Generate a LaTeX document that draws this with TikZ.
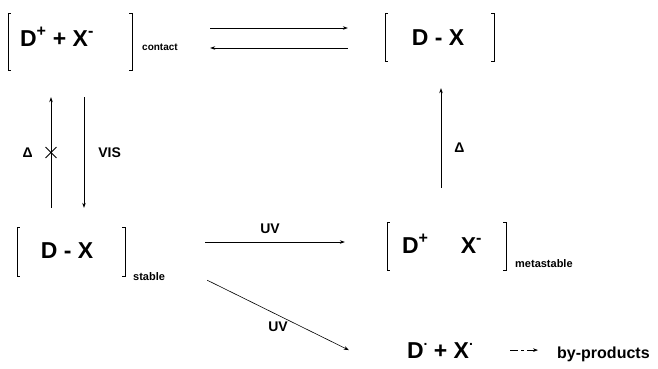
\documentclass[tikz,border=0pt]{standalone}
\usepackage{fontspec}
\setmainfont{Liberation Sans}
\usetikzlibrary{arrows.meta,positioning,calc,shapes.misc}

\newcommand{\rdot}{\raisebox{0.55em}{\fontsize{14}{14}\selectfont.}}

\tikzset{
  brbox/.style 2 args={inner sep=0pt, minimum width=#1, minimum height=#2},
  brk/.style={line width=0.6pt},
  species/.style={font=\fontsize{23}{26}\selectfont\bfseries, inner sep=0pt, anchor=base},
  sublbl/.style={font=\fontsize{11}{13}\selectfont\bfseries, inner sep=0pt, anchor=base west},
  cond/.style={font=\fontsize{14}{16}\selectfont\bfseries, inner sep=0pt},
  rxn/.style={-{Stealth[length=5pt,width=3.6pt]}, line width=0.6pt},
}

\begin{document}
\begin{tikzpicture}[x=1pt,y=-1pt]
    \useasboundingbox (0,0) rectangle (658,368);

    % Bracket boxes
    \node[brbox={124pt}{57pt}] (cip) at (70,41.5) {};
    \node[brbox={109pt}{48pt}] (dxt) at (439.5,37) {};
    \node[brbox={108pt}{49pt}] (dxs) at (71,251.5) {};
    \node[brbox={119pt}{48pt}] (ipm) at (446.5,246) {};

    \foreach \bx in {cip,dxt,dxs,ipm} {
        \draw[brk] ([xshift=3pt]\bx.north west) -- (\bx.north west) -- (\bx.south west) -- ([xshift=3pt]\bx.south west);
        \draw[brk] ([xshift=-3pt]\bx.north east) -- (\bx.north east) -- (\bx.south east) -- ([xshift=-3pt]\bx.south east);
    }

    % Species
    \node[species] (cipt) at (57,46) {D\textsuperscript{+} + X\textsuperscript{-}};
    \node[species] (dxtt) at (438,45) {D - X};
    \node[species] (dxst) at (67,258) {D - X};
    \node[species] (ipmt) at (442,253) {D\textsuperscript{+}\hspace{1.4em}X\textsuperscript{-}};
    \node[species] (rad) at (440,358) {D\rdot{} + X\rdot};
    \node[species, font=\fontsize{16}{18}\selectfont\bfseries, anchor=base west] (byp) at (557,358) {by-products};

    % Subscripts of the brackets
    \node[sublbl, font=\fontsize{10}{12}\selectfont\bfseries] (contact) at (142,50) {contact};
    \node[sublbl] (stable) at (133,280) {stable};
    \node[sublbl] (metast) at (515,267) {metastable};

    % Equilibrium arrows
    \draw[rxn] ($(cip.east)+(78,-13.5)$) -- ($(dxt.west)+(-37,-9)$);
    \draw[rxn] ($(dxt.west)+(-37,11)$) -- ($(cip.east)+(78,6.5)$);

    % Thermal and visible
    \draw[rxn] ($(dxs.north)+(-20,-19)$) -- ($(cip.south)+(-19,27)$)
        node[midway, cross out, draw, line width=0.9pt, minimum width=10pt, minimum height=10pt, inner sep=0pt] (nox) {}
        node[cond, midway, left=18pt] (heat1) {Δ};
    \draw[rxn] ($(cip.south)+(14,27)$) -- ($(dxs.north)+(13,-19)$)
        node[cond, midway, right=14pt] (vis) {VIS};
    \draw[rxn] ($(ipm.north)+(-5.5,-34)$) -- ($(dxt.south)+(1.5,27)$)
        node[cond, pos=0.4, right=13pt] (heat2) {Δ};

    % Photolysis
    \draw[rxn] ($(dxs.east)+(80,-9.5)$) -- ($(ipm.west)+(-42,-4)$)
        node[cond, midway, above=8pt, xshift=-5pt] (uv1) {UV};
    \draw[rxn] ($(dxs.south east)+(82,4)$) -- ($(rad.west)+(-58,0)$)
        node[cond, midway, below=6pt] (uv2) {UV};
    \draw[rxn, dash pattern=on 8pt off 3pt on 3pt off 3pt, shorten <=37pt, shorten >=19pt] (rad.east) -- (rad.east -| byp.west);

\end{tikzpicture}
\end{document}
